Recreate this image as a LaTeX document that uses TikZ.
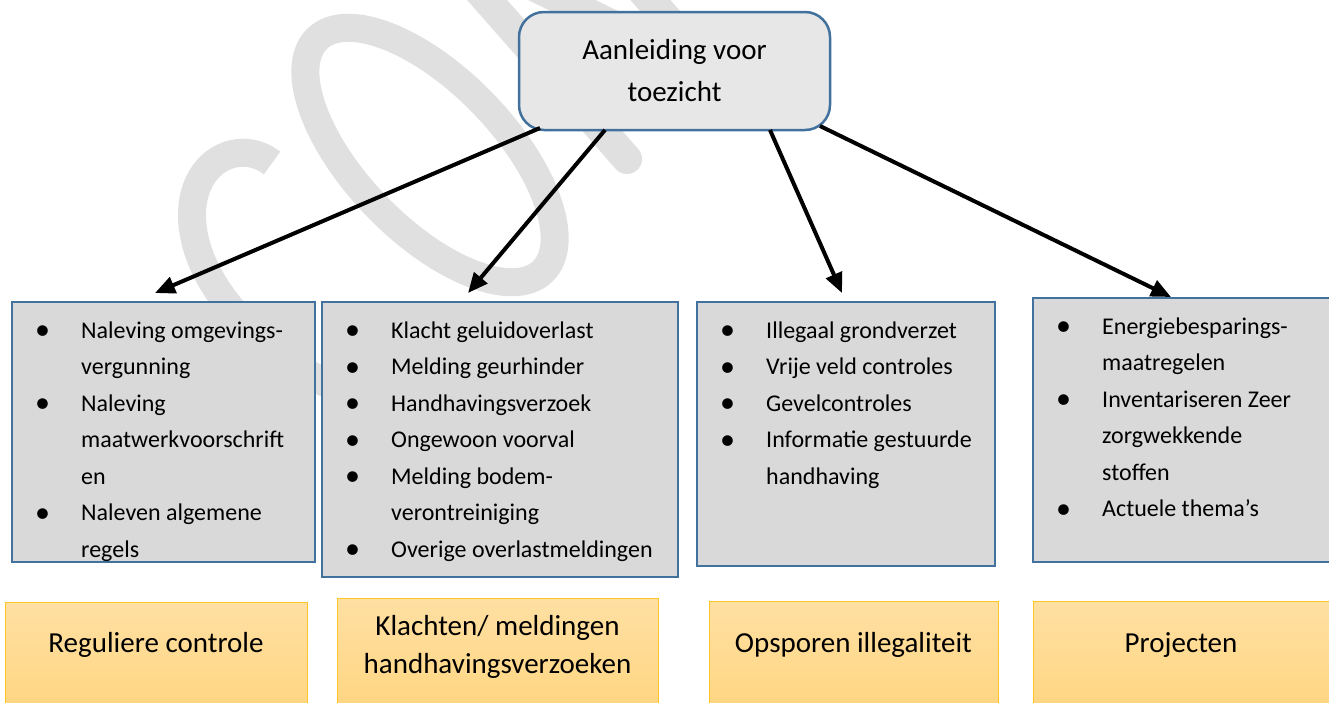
\documentclass[tikz,border=0pt]{standalone}
\usepackage{fontspec}
\setmainfont{Carlito}
\usetikzlibrary{arrows.meta,calc}
\definecolor{bbord}{RGB}{65,113,156}
\definecolor{topfill}{RGB}{231,231,231}
\definecolor{listfill}{RGB}{217,217,217}
\definecolor{gtop}{RGB}{255,224,163}
\definecolor{gbot}{RGB}{255,211,122}
\definecolor{gbord}{RGB}{255,196,40}
\definecolor{wmgray}{RGB}{224,224,224}
\newcommand{\bul}{\makebox[46pt][l]{\raisebox{-0.08em}{\scalebox{1.25}{\textbullet}}}}
\begin{document}
\begin{tikzpicture}[x=1pt,y=-1pt,
  wm/.style={draw=wmgray, line width=28pt},
  topbox/.style={draw=bbord, line width=2.5pt, fill=topfill, rounded corners=25pt,
    inner sep=0pt, outer sep=0pt, align=center, font=\fontsize{29}{42}\selectfont},
  listbox/.style={draw=bbord, line width=2pt, fill=listfill, inner sep=0pt, outer sep=0pt},
  listtext/.style={anchor=base west, inner sep=0pt, font=\fontsize{24}{36.5}\selectfont},
  catbox/.style={draw=gbord, line width=1pt, top color=gtop, bottom color=gbot,
    inner sep=0pt, outer sep=0pt},
  cattext/.style={align=center, inner sep=0pt, font=\fontsize{29}{38}\selectfont},
  arr/.style={line width=4pt, -{Triangle[length=20pt,width=17pt]}}
]
\useasboundingbox (0,0) rectangle (1329,702);
\clip (0,0) rectangle (1329,702);
\fill[white] (0,0) rectangle (1329,702);

% watermark (background)
\draw[wm, rotate around={-45.9:(430,155)}] (430,155) ellipse [x radius=162, y radius=74];
\draw[wm] (272,163) .. controls (240,138) and (192,160) .. (192,215)
          .. controls (192,300) and (300,390) .. (400,410);
\draw[wm, line width=30pt, line cap=round, line join=round]
   (627,159) -- (429,-66) -- (719,78) -- (521,-147);

% top node
\node[topbox, minimum width=311pt, minimum height=118pt] (top) at (674.5,71)
  {Aanleiding voor\\toezicht};

% list boxes
\node[listbox, minimum width=303pt, minimum height=260pt] (b1) at (163.5,432) {};
\node[listbox, minimum width=356pt, minimum height=275pt] (b2) at (500,439.5) {};
\node[listbox, minimum width=298pt, minimum height=264pt] (b3) at (846,434) {};
\node[listbox, minimum width=307pt, minimum height=264pt] (b4) at (1186.5,430) {};

\begin{scope}
\clip (b1.north west) rectangle (b1.south east);
\node[listtext] (l1) at ($(b1.north west)+(23,36)$) {\begin{tabular}[t]{@{}l@{}l@{}}
\bul & Naleving omgevings-\\
     & vergunning\\
\bul & Naleving\\
     & maatwerkvoorschrift\\
     & en\\
\bul & Naleven algemene\\
     & regels
\end{tabular}};
\end{scope}

\node[listtext] (l2) at ($(b2.north west)+(23,36)$) {\begin{tabular}[t]{@{}l@{}l@{}}
\bul & Klacht geluidoverlast\\
\bul & Melding geurhinder\\
\bul & Handhavingsverzoek\\
\bul & Ongewoon voorval\\
\bul & Melding bodem-\\
     & verontreiniging\\
\bul & Overige overlastmeldingen
\end{tabular}};

\node[listtext] (l3) at ($(b3.north west)+(23,36)$) {\begin{tabular}[t]{@{}l@{}l@{}}
\bul & Illegaal grondverzet\\
\bul & Vrije veld controles\\
\bul & Gevelcontroles\\
\bul & Informatie gestuurde\\
     & handhaving
\end{tabular}};

\node[listtext] (l4) at ($(b4.north west)+(23,36)$) {\begin{tabular}[t]{@{}l@{}l@{}}
\bul & Energiebesparings-\\
     & maatregelen\\
\bul & Inventariseren Zeer\\
     & zorgwekkende\\
     & stoffen\\
\bul & Actuele thema’s
\end{tabular}};

% category boxes
\node[catbox, minimum width=302pt, minimum height=130pt] (cA) at (156,667) {};
\node[catbox, minimum width=321pt, minimum height=134pt] (cB) at (497.5,665) {};
\node[catbox, minimum width=289pt, minimum height=131pt] (cC) at (853.5,666.5) {};
\node[catbox, minimum width=300pt, minimum height=131pt] (cD) at (1183,666.5) {};
\node[cattext] (tA) at (156,645) {Reguliere controle};
\node[cattext] (tB) at (497.5,647) {Klachten/ meldingen\\handhavingsverzoeken};
\node[cattext] (tC) at (853.5,645) {Opsporen illegaliteit};
\node[cattext] (tD) at (1181,645) {Projecten};

% arrows
\coordinate (s1) at ($(top.south west)+(21,-2)$);
\coordinate (s2) at ($(top.south west)+(86,0)$);
\coordinate (s3) at ($(top.south west)+(251,0)$);
\coordinate (s4) at ($(top.south east)+(-10,-4)$);
\coordinate (e1) at (155,293);
\coordinate (e2) at (468,293);
\coordinate (e3) at (842,293);
\coordinate (e4) at (1171,297);
\draw[arr] (s1) -- (e1);
\draw[arr] (s2) -- (e2);
\draw[arr] (s3) -- (e3);
\draw[arr] (s4) -- (e4);
\end{tikzpicture}
\end{document}
